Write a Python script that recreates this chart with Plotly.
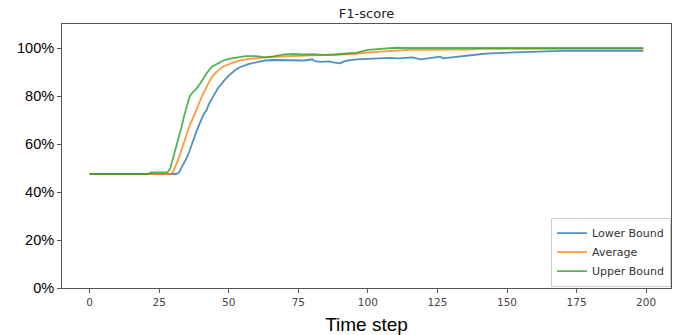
import plotly.graph_objects as go

# ---- data (time step, F1-score in %) ----
lower_x = [0, 31, 32, 33, 34, 35, 36, 37, 38, 39, 40, 41, 42, 43, 44, 45, 46, 48, 50, 52, 54, 57, 60, 63,
           66, 70, 74, 77, 80, 81, 83, 86, 88, 90, 91, 93, 96, 100, 104, 108, 111, 113, 116, 119, 121,
           123, 126, 127, 129, 132, 135, 138, 141, 144, 147, 150, 153, 156, 160, 165, 170, 175, 199]
lower_y = [47.5, 47.5, 48, 50, 52, 54.5, 57.5, 61, 64, 67, 70, 72.5, 74, 77, 79, 81, 83, 86, 88.5, 90.5, 92, 93.3, 94.2, 94.8,
           95.0, 95.0, 95.0, 94.8, 95.3, 94.5, 94.2, 94.4, 93.9, 93.6, 94.2, 94.8, 95.3, 95.6, 95.8, 95.9, 95.7, 95.9, 96.1, 95.3, 95.6,
           96.1, 96.4, 95.7, 96.0, 96.4, 96.8, 97.2, 97.5, 97.8, 97.9, 98.2, 98.4, 98.5, 98.5, 98.5, 98.8, 98.8, 98.8]

avg_x = [0, 29, 30, 31, 32, 33, 34, 35, 36, 37, 38, 39, 40, 41, 42, 43, 44, 46, 48, 50, 53, 56, 60, 64,
         70, 75, 80, 85, 90, 95, 100, 104, 108, 112, 116, 120, 125, 130, 137, 140, 150, 160, 175, 199]
avg_y = [47.5, 47.5, 48.5, 51, 54, 57.5, 61, 65, 68, 70.5, 73, 76, 79, 81.5, 84, 86, 88, 90.5, 92.3, 93.3, 94.5, 95.3, 95.8, 96.2,
         96.5, 96.8, 96.9, 97.0, 97.1, 97.5, 98.2, 98.5, 98.9, 99.2, 99.3, 99.2, 99.4, 99.3, 99.3, 99.6, 99.6, 99.6, 99.6, 99.6]

upper_x = [0, 21, 22, 28, 29, 30, 31, 32, 33, 34, 35, 36, 37, 38, 39, 40, 41, 42, 43, 44, 46, 48, 50, 53, 56,
           60, 63, 66, 70, 73, 76, 80, 84, 88, 92, 96, 100, 103, 106, 110, 115, 120, 130, 140, 150, 157, 176, 177, 199]
upper_y = [47.5, 47.5, 48.2, 48.2, 50, 54, 58, 62, 67, 72, 76, 80, 81.5, 82.5, 84, 85.5, 87.5, 89.5, 91, 92.3, 93.5, 94.8, 95.5, 96.2, 96.6,
           96.6, 96.1, 96.5, 97.3, 97.5, 97.3, 97.4, 97.1, 97.3, 97.6, 98.1, 99.2, 99.4, 99.6, 100.1, 100.0, 100.0, 100.0, 100.0, 100.0,
           100.3, 100.3, 100.0, 100.0]

x_ticks = [0, 25, 50, 75, 100, 125, 150, 175, 200]
y_ticks = [0, 0.2, 0.4, 0.6, 0.8, 1.0]

series = [
    ("Lower Bound", lower_x, lower_y, "#1f77b4"),
    ("Average", avg_x, avg_y, "#ff7f0e"),
    ("Upper Bound", upper_x, upper_y, "#2ca02c"),
]

fig = go.Figure()
for name, xs, ys, col in series:
    fig.add_trace(go.Scatter(
        x=xs, y=[v / 100 for v in ys], mode="lines", name=name,
        line=dict(color=col, width=1.8), opacity=0.8,
    ))

axis_common = dict(showgrid=False, zeroline=False, showline=True, mirror=True,
                   linecolor="#555", linewidth=1, ticks="outside", ticklen=4,
                   tickcolor="#555", automargin=False)

fig.update_layout(
    width=683, height=335,
    margin=dict(l=62, r=12, t=24, b=47),
    paper_bgcolor="white", plot_bgcolor="white",
    title=dict(text="F1-score", x=0.5, xref="paper", y=1, yref="paper",
               yanchor="bottom", pad=dict(b=6),
               font=dict(family="DejaVu Sans", size=13, color="#222")),
    xaxis=dict(range=[-9.95, 208.95], tickvals=x_ticks,
               tickfont=dict(family="DejaVu Sans", size=10.5, color="#444"),
               title=dict(text="Time step", standoff=14,
                          font=dict(family="Liberation Sans", size=19, color="black")),
               **axis_common),
    yaxis=dict(range=[0, 1.1], tickvals=y_ticks, tickformat=".0%",
               tickfont=dict(family="Liberation Sans", size=14.5, color="black"),
               **axis_common),
    legend=dict(x=1.0, y=0.005, xanchor="right", yanchor="bottom",
                bgcolor="rgba(255,255,255,0.85)", bordercolor="#ccc", borderwidth=1,
                font=dict(family="DejaVu Sans", size=11, color="#333"),
                tracegroupgap=0, itemwidth=30),
    showlegend=True,
)

fig.write_html("out.html")
